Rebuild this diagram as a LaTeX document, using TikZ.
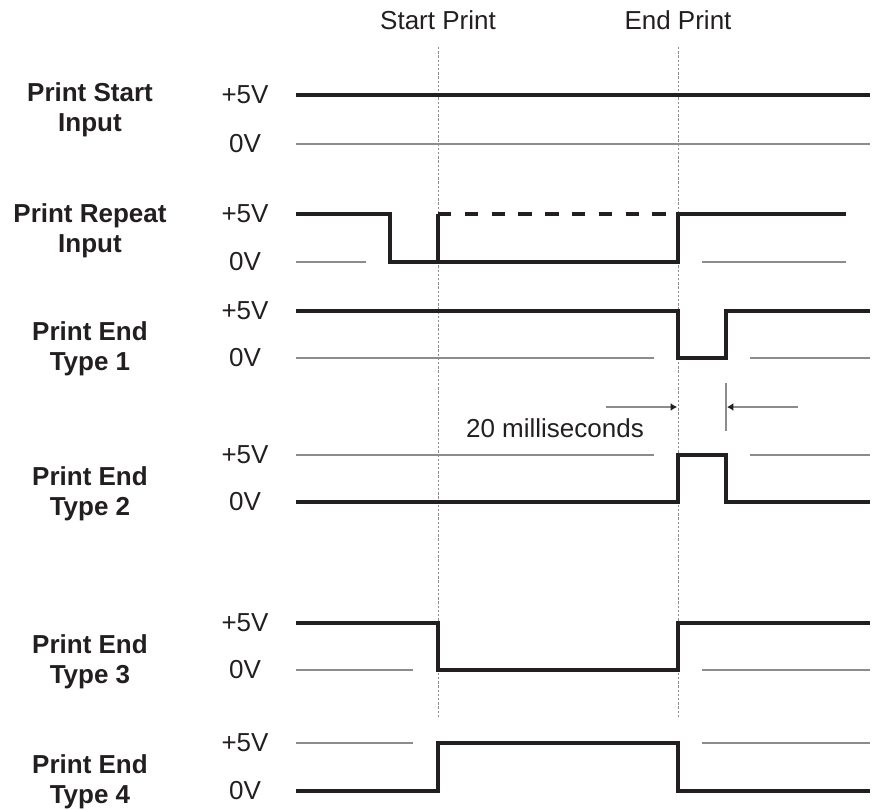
\documentclass[tikz,border=0pt]{standalone}
\usepackage{fontspec}
\setmainfont{Liberation Sans}
\usetikzlibrary{arrows.meta}
\definecolor{inkdark}{HTML}{231F20}
\definecolor{inkgrey}{HTML}{8C8C8C}
\tikzset{
  wave/.style={draw=inkdark, line width=1.6pt},
  rail/.style={draw=inkgrey, line width=0.7pt},
  guide/.style={draw=inkgrey, line width=0.5pt, dash pattern=on 1.2pt off 0.9pt},
  lvl/.style={text=inkdark, inner sep=0pt},
  rowlbl/.style={text=inkdark, font=\fontsize{13}{15}\selectfont\bfseries,
                 align=center, inner sep=0pt},
}
\newcommand{\sigrow}[5]{%
  \node[lvl] (#1hi) at (245,#2) {+5V};
  \node[lvl] (#1lo) at (245,#3) {0V};
  \node[rowlbl] (#1) at (90,#4) {#5};}

\begin{document}
\begin{tikzpicture}[x=0.5pt, y=-0.5pt, font=\fontsize{13}{15}\selectfont]
      \useasboundingbox (0,0) rectangle (872,809);
      \node[lvl] (start) at (438,20) {Start Print};
      \node[lvl] (end) at (678,20) {End Print};
      \draw[guide] (438,47) -- (438,718);
      \draw[guide] (678,47) -- (678,718);
      % print start input
      \sigrow{pstart}{95}{144}{110}{Print Start\\Input}
      \draw[rail] (296,144) -- (870,144);
      \draw[wave] (296,95) -- (870,95);
      % print repeat input
      \sigrow{prep}{214}{262}{231}{Print Repeat\\Input}
      \draw[rail] (296,262) -- (366,262) (702,262) -- (846,262);
      \draw[wave] (296,214) -- (390,214) -- (390,262) -- (678,262) -- (678,214) -- (846,214);
      \draw[wave] (438,262) -- (438,214);
      \draw[wave, dash pattern=on 6.7pt off 6.7pt] (438,214) -- (678,214);
      % print end type 1
      \sigrow{pend1}{311}{358}{349}{Print End\\Type 1}
      \draw[rail] (296,358) -- (654,358) (750,358) -- (870,358);
      \draw[wave] (296,311) -- (678,311) -- (678,358) -- (726,358) -- (726,311) -- (870,311);
      % pulse width
      \draw[rail] (726,383) -- (726,431);
      \draw[rail, -{Latex[length=3.2pt, width=4pt, color=inkdark]}] (606,407) -- (677,407);
      \draw[rail, -{Latex[length=3.2pt, width=4pt, color=inkdark]}] (798,407) -- (727,407);
      \node[lvl] (width) at (555,428) {20 milliseconds};
      % print end type 2
      \sigrow{pend2}{455}{502}{494}{Print End\\Type 2}
      \draw[rail] (296,455) -- (654,455) (750,455) -- (870,455);
      \draw[wave] (296,502) -- (678,502) -- (678,455) -- (726,455) -- (726,502) -- (870,502);
      % print end type 3
      \sigrow{pend3}{623}{670}{662}{Print End\\Type 3}
      \draw[rail] (296,670) -- (413,670) (702,670) -- (870,670);
      \draw[wave] (296,623) -- (438,623) -- (438,670) -- (678,670) -- (678,623) -- (870,623);
      % print end type 4
      \sigrow{pend4}{743}{791}{782}{Print End\\Type 4}
      \draw[rail] (296,743) -- (413,743) (702,743) -- (870,743);
      \draw[wave] (296,791) -- (438,791) -- (438,743) -- (678,743) -- (678,791) -- (870,791);
    \end{tikzpicture}
\end{document}
